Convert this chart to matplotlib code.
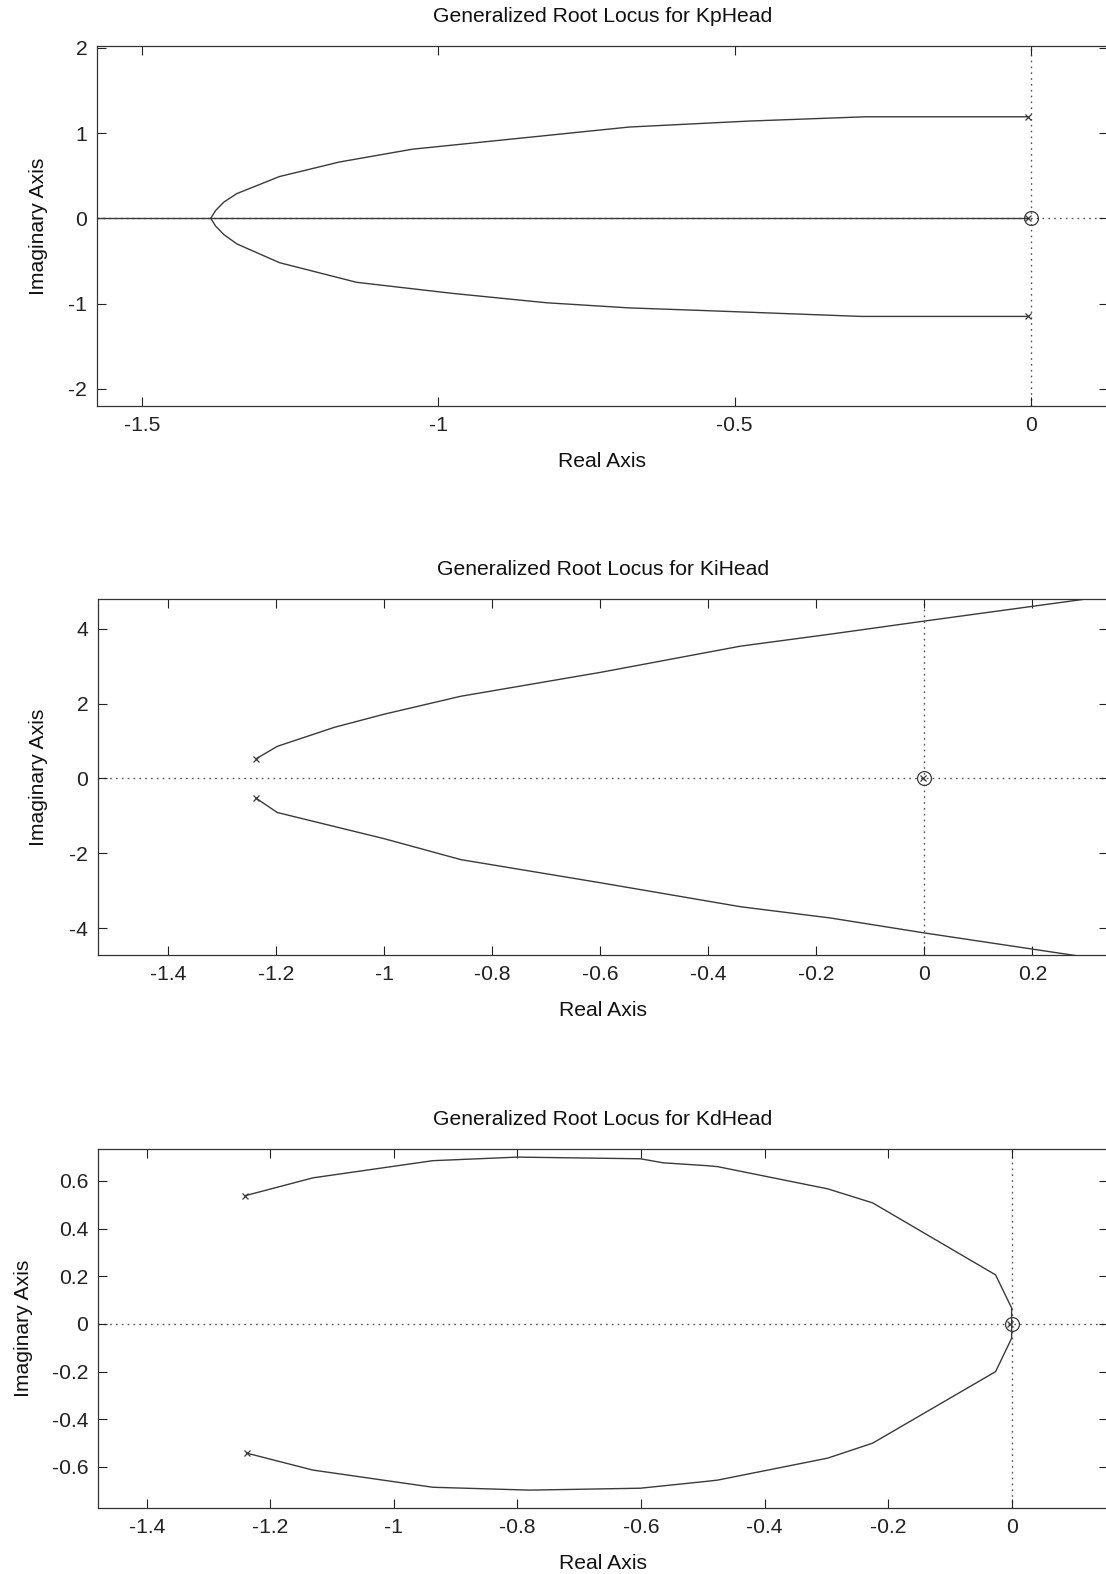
import numpy as np
import matplotlib.pyplot as plt
from matplotlib.ticker import FormatStrFormatter

plt.rcParams['font.family'] = ['Liberation Sans', 'DejaVu Sans']
plt.rcParams['axes.unicode_minus'] = False

# --- KpHead locus ---
kp_up_x = [-1.384, -1.376, -1.362, -1.340, -1.268, -1.167, -1.044, -0.875, -0.678, -0.476, -0.28, -0.005]
kp_up_y = [0.0, 0.09, 0.19, 0.29, 0.49, 0.66, 0.81, 0.93, 1.07, 1.14, 1.19, 1.19]
kp_lo_x = [-1.384, -1.376, -1.362, -1.340, -1.268, -1.138, -0.976, -0.817, -0.678, -0.556, -0.286, -0.005]
kp_lo_y = [0.0, -0.09, -0.19, -0.30, -0.52, -0.75, -0.88, -0.99, -1.05, -1.08, -1.15, -1.15]
kp_real_x = [-1.65, -0.005]
kp_real_y = [0.0, 0.0]
kp_poles_x = [-0.005, -0.005, -0.005]
kp_poles_y = [1.19, -1.15, 0.0]
kp_zeros_x = [0.0]
kp_zeros_y = [0.0]

# --- KiHead locus ---
ki_up_x = [-1.237, -1.198, -1.092, -1.0, -0.858, -0.599, -0.34, -0.174, 0.0, 0.33]
ki_up_y = [0.53, 0.86, 1.37, 1.72, 2.20, 2.84, 3.54, 3.86, 4.21, 4.86]
ki_lo_x = [-1.237, -1.198, -1.0, -0.858, -0.599, -0.34, -0.174, 0.0, 0.31]
ki_lo_y = [-0.53, -0.91, -1.61, -2.17, -2.79, -3.43, -3.73, -4.13, -4.80]
ki_poles_x = [-1.237, -1.237, -0.003]
ki_poles_y = [0.53, -0.53, 0.0]
ki_zeros_x = [0.0]
ki_zeros_y = [0.0]

# --- KdHead locus ---
kd_up_x = [-1.241, -1.131, -0.937, -0.80, -0.601, -0.564, -0.493, -0.476, -0.298, -0.225, -0.026, 0.0, 0.0]
kd_up_y = [0.538, 0.613, 0.685, 0.70, 0.693, 0.676, 0.664, 0.66, 0.567, 0.508, 0.206, 0.067, 0.0]
kd_lo_x = [-1.238, -1.131, -0.937, -0.78, -0.601, -0.493, -0.476, -0.298, -0.225, -0.026, 0.0, 0.0]
kd_lo_y = [-0.542, -0.613, -0.685, -0.697, -0.689, -0.66, -0.655, -0.563, -0.50, -0.20, -0.06, 0.0]
kd_poles_x = [-1.241, -1.238, -0.003]
kd_poles_y = [0.538, -0.542, 0.0]
kd_zeros_x = [0.0]
kd_zeros_y = [0.0]

titles = ['Generalized Root Locus for KpHead',
          'Generalized Root Locus for KiHead',
          'Generalized Root Locus for KdHead']

kp_xticks = [-1.5, -1, -0.5, 0]
kp_yticks = [-2, -1, 0, 1, 2]
ki_xticks = [-1.4, -1.2, -1, -0.8, -0.6, -0.4, -0.2, 0, 0.2]
ki_yticks = [-4, -2, 0, 2, 4]
kd_xticks = [-1.4, -1.2, -1, -0.8, -0.6, -0.4, -0.2, 0]
kd_yticks = [-0.6, -0.4, -0.2, 0, 0.2, 0.4, 0.6]

line_col = '#3a3a3a'
dot_col = '#555555'
fs = 15.2

fig = plt.figure(figsize=(11.06, 15.74), dpi=100)
W, H = 1106.0, 1574.0


def make_ax(left, top, bottom, right=1108):
    return fig.add_axes([left / W, 1 - bottom / H, (right - left) / W, (bottom - top) / H])


def style(ax, title, xticks, yticks, xlim, ylim, ylab_x):
    ax.set_xlim(*xlim)
    ax.set_ylim(*ylim)
    ax.set_xticks(xticks)
    ax.set_yticks(yticks)
    ax.xaxis.set_major_formatter(FormatStrFormatter('%g'))
    ax.yaxis.set_major_formatter(FormatStrFormatter('%g'))
    ax.tick_params(direction='in', length=6.5, width=0.8, top=True, right=True,
                   labelsize=fs, colors='#222222', pad=7)
    for s in ax.spines.values():
        s.set_color('#333333')
        s.set_linewidth(0.9)
    ax.set_title(title, fontsize=fs, pad=17, color='#111111')
    ax.set_xlabel('Real Axis', fontsize=fs, color='#111111')
    ax.set_ylabel('Imaginary Axis', fontsize=fs, color='#111111')
    ax.xaxis.set_label_coords(0.5, -0.128)
    ax.yaxis.set_label_coords(ylab_x, 0.5)
    ax.axhline(0, color=dot_col, ls=(0, (1.2, 3.0)), lw=1.0, zorder=1)
    ax.axvline(0, color=dot_col, ls=(0, (1.2, 3.0)), lw=1.0, zorder=1)


def draw(ax, branches, px, py, zx, zy):
    for bx, by in branches:
        ax.plot(bx, by, color=line_col, lw=1.0, zorder=2)
    ax.plot(px, py, 'x', color=line_col, ms=5, mew=0.9, zorder=3)
    ax.plot(zx, zy, 'o', mfc='none', mec=line_col, ms=10, mew=0.9, zorder=3)


ax1 = make_ax(97, 46, 406)
style(ax1, titles[0], kp_xticks, kp_yticks, (-1.576, 0.13), (-2.2, 2.02), -0.048)
draw(ax1, [(kp_up_x, kp_up_y), (kp_lo_x, kp_lo_y), (kp_real_x, kp_real_y)],
     kp_poles_x, kp_poles_y, kp_zeros_x, kp_zeros_y)

ax2 = make_ax(98, 599, 955)
style(ax2, titles[1], ki_xticks, ki_yticks, (-1.53, 0.34), (-4.72, 4.8), -0.05)
draw(ax2, [(ki_up_x, ki_up_y), (ki_lo_x, ki_lo_y)],
     ki_poles_x, ki_poles_y, ki_zeros_x, ki_zeros_y)

ax3 = make_ax(98, 1149, 1508)
style(ax3, titles[2], kd_xticks, kd_yticks, (-1.479, 0.156), (-0.772, 0.734), -0.064)
draw(ax3, [(kd_up_x, kd_up_y), (kd_lo_x, kd_lo_y)],
     kd_poles_x, kd_poles_y, kd_zeros_x, kd_zeros_y)

fig.savefig('out.png', dpi=100, facecolor='white')
